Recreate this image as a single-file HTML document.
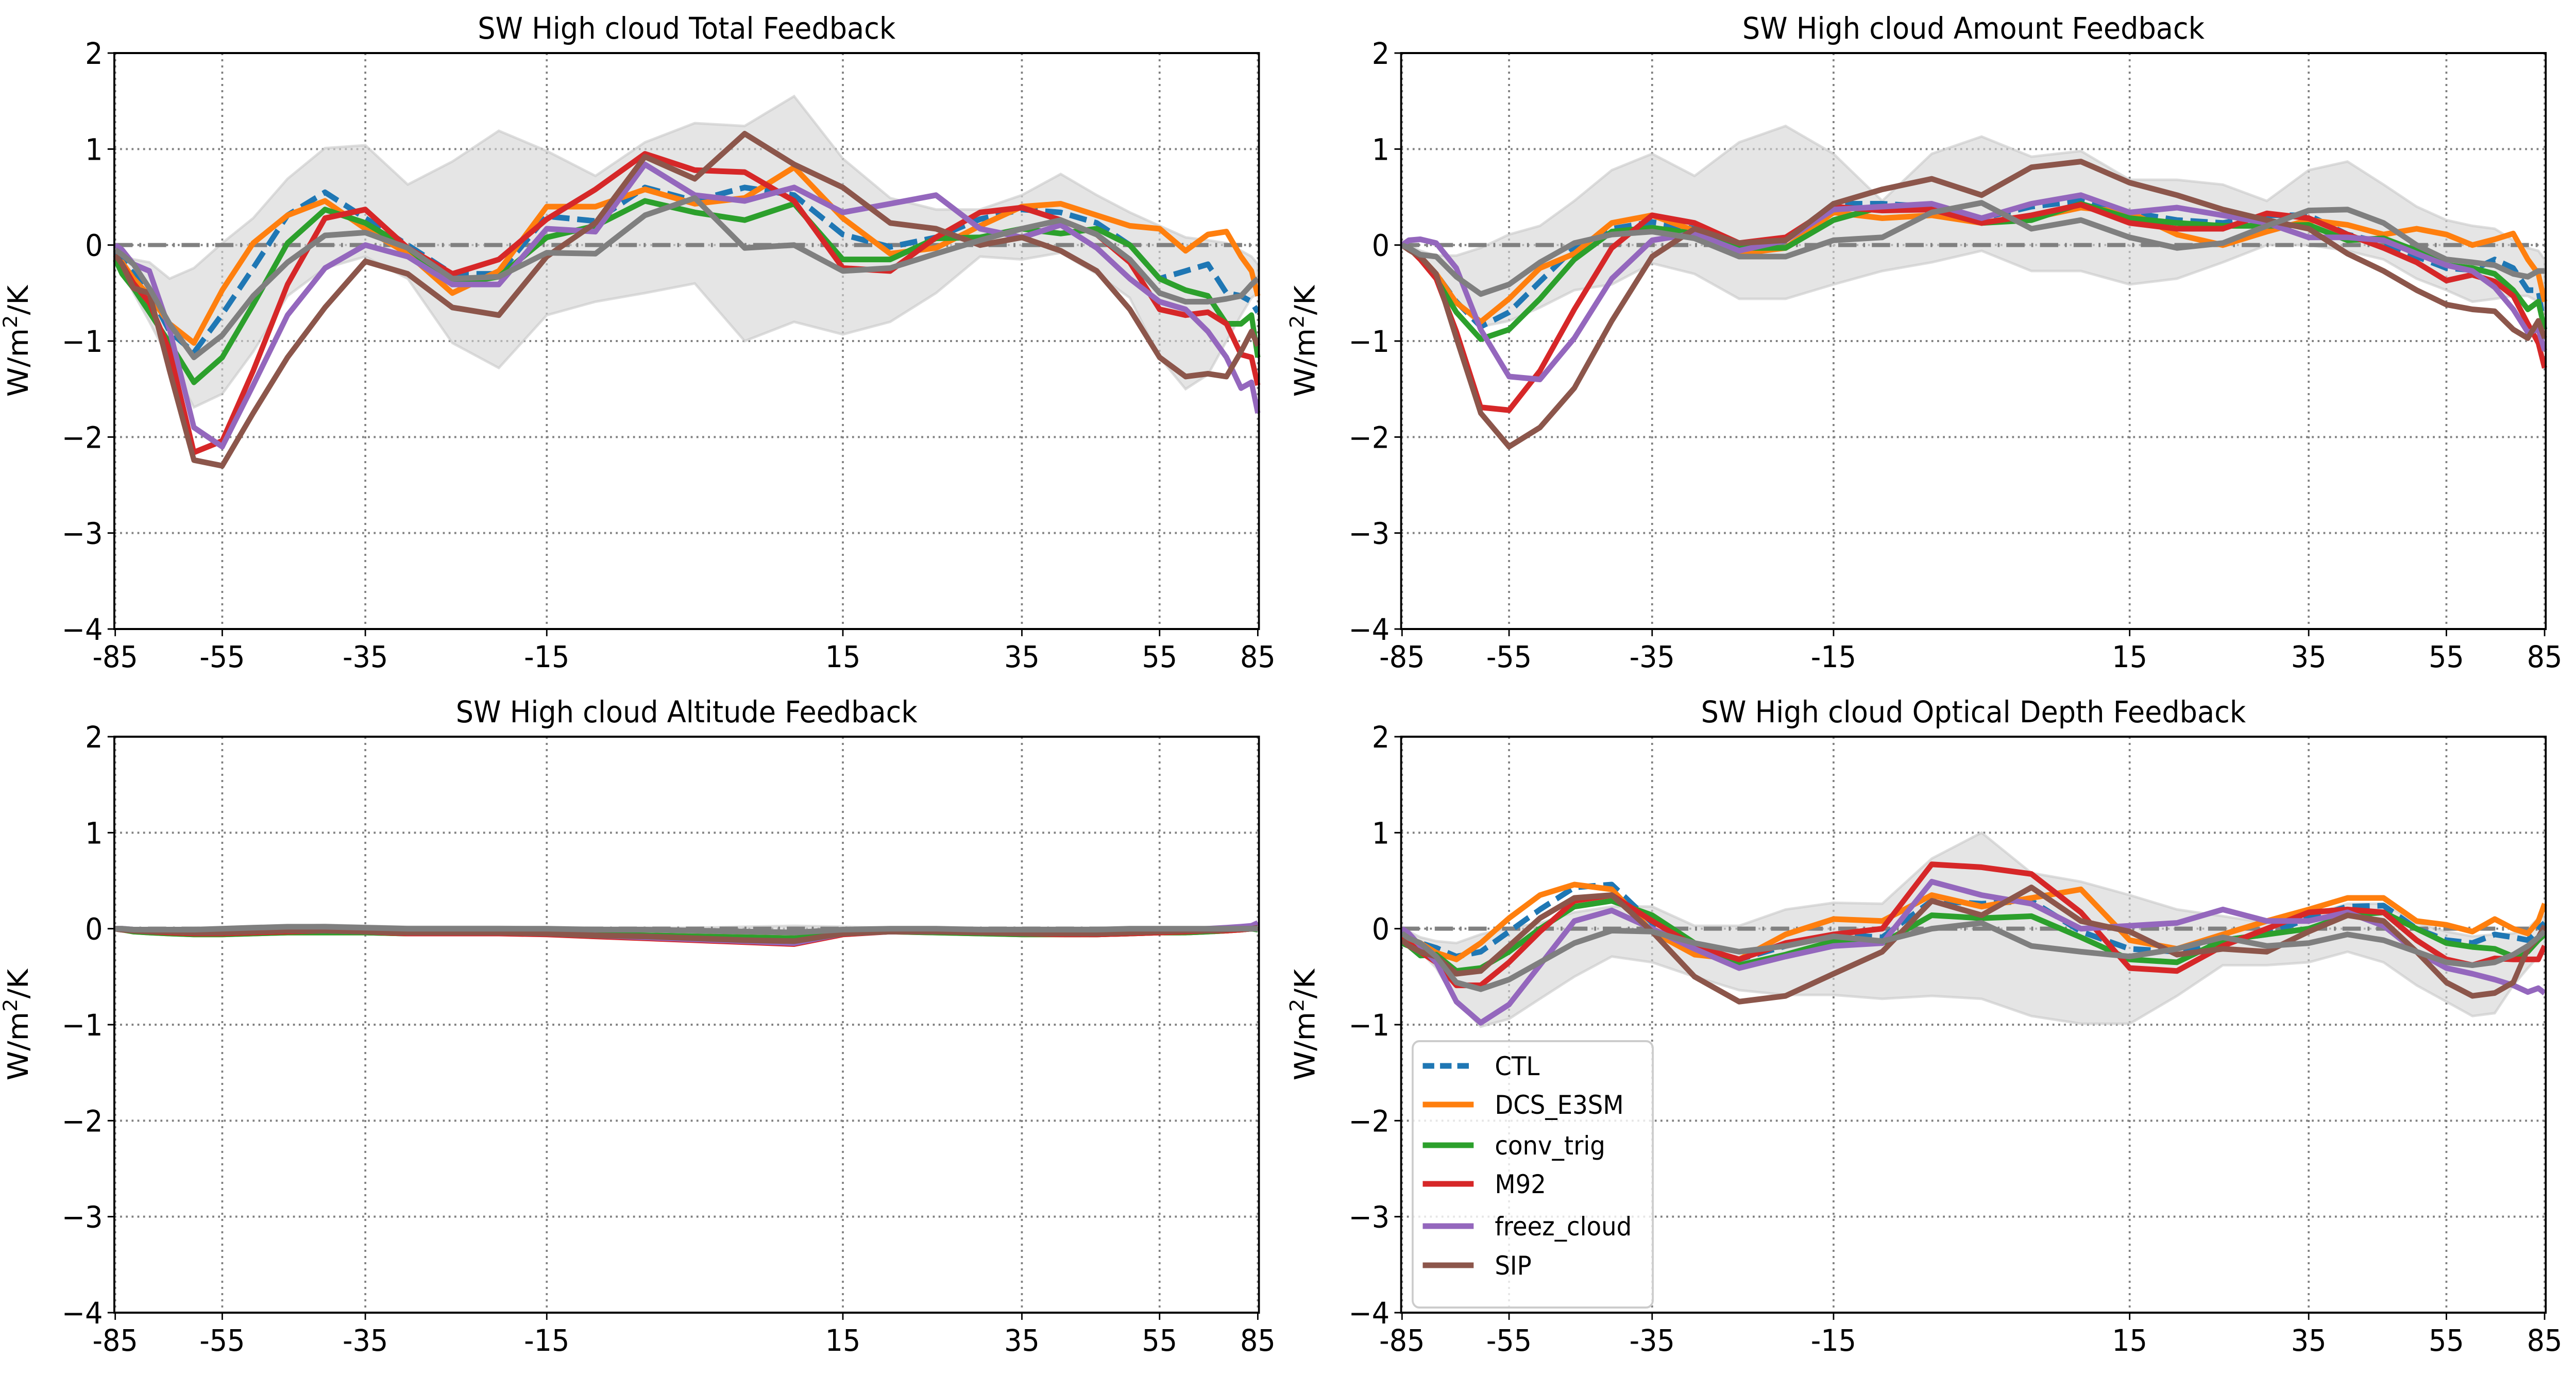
<!DOCTYPE html>
<html><head><meta charset="utf-8"><style>
html,body{margin:0;padding:0;background:#fff;overflow:hidden;width:100%;height:100%;}
svg{display:block;font-family:"DejaVu Sans","Liberation Sans",sans-serif;width:100vw;height:100vh;}
</style></head><body>
<svg id="fig" viewBox="0 0 5363 2669" preserveAspectRatio="none" xmlns="http://www.w3.org/2000/svg"></svg>
<script>
const lats = [-85,-80,-75,-70,-65,-60,-55,-50,-45,-40,-35,-30,-25,-20,-15,-10,-5,0,5,10,15,20,25,30,35,40,45,50,55,60,65,70,75,80,85];
const xTickLabels = [-85,-55,-35,-15,15,35,55,85];
const yTickLabels = [2,1,0,-1,-2,-3,-4];
const seriesNames = ["CTL","DCS_E3SM","conv_trig","M92","freez_cloud","SIP"];

// Panel 1: Total
const totCTL = [-0.05,-0.15,-0.3,-0.5,-0.9,-1.12,-0.72,-0.24,0.31,0.55,0.28,0.0,-0.3,-0.3,0.3,0.25,0.6,0.46,0.6,0.52,0.11,-0.02,0.08,0.27,0.37,0.34,0.23,0.0,-0.35,-0.27,-0.2,-0.5,-0.53,-0.59,-0.7];
const totDCS = [-0.15,-0.18,-0.35,-0.53,-0.82,-1.02,-0.47,0.02,0.31,0.46,0.17,-0.09,-0.5,-0.27,0.4,0.4,0.58,0.43,0.49,0.81,0.28,-0.09,-0.03,0.2,0.4,0.43,0.31,0.2,0.17,-0.06,0.11,0.14,-0.12,-0.27,-0.53];
const totConv = [-0.15,-0.3,-0.45,-0.7,-1.02,-1.43,-1.17,-0.62,0.02,0.37,0.23,-0.03,-0.41,-0.33,0.08,0.2,0.46,0.34,0.26,0.43,-0.15,-0.15,0.07,0.08,0.17,0.12,0.17,0.0,-0.35,-0.47,-0.53,-0.82,-0.82,-0.73,-1.17];
const totM92 = [-0.1,-0.2,-0.4,-0.6,-1.1,-2.16,-2.04,-1.31,-0.41,0.28,0.37,-0.03,-0.3,-0.15,0.27,0.58,0.95,0.78,0.76,0.46,-0.24,-0.27,0.08,0.34,0.39,0.26,0.11,-0.18,-0.67,-0.73,-0.7,-0.82,-1.14,-1.17,-1.46];
const totFreez = [0.0,-0.05,-0.2,-0.27,-0.88,-1.9,-2.1,-1.46,-0.73,-0.24,0.0,-0.12,-0.41,-0.41,0.17,0.14,0.84,0.52,0.46,0.6,0.34,0.43,0.52,0.17,0.08,0.21,-0.03,-0.35,-0.59,-0.67,-0.9,-1.17,-1.49,-1.43,-1.75];
const totSIP = [-0.1,-0.2,-0.45,-0.5,-1.31,-2.24,-2.3,-1.75,-1.17,-0.65,-0.17,-0.3,-0.65,-0.73,-0.12,0.23,0.92,0.69,1.16,0.84,0.6,0.23,0.17,0.0,0.08,-0.06,-0.27,-0.67,-1.17,-1.37,-1.34,-1.37,-1.11,-0.9,-1.05];
const totObs = [-0.05,-0.1,-0.2,-0.45,-0.82,-1.17,-0.94,-0.53,-0.18,0.1,0.13,-0.03,-0.35,-0.33,-0.08,-0.09,0.31,0.49,-0.03,0.0,-0.27,-0.24,-0.09,0.05,0.17,0.26,0.11,-0.15,-0.5,-0.59,-0.59,-0.56,-0.53,-0.41,-0.35];
const totHi = [-0.05,-0.1,-0.15,-0.18,-0.35,-0.24,0.02,0.28,0.69,1.01,1.04,0.63,0.87,1.19,0.98,0.72,1.07,1.27,1.24,1.55,0.9,0.49,0.37,0.37,0.52,0.74,0.52,0.34,0.2,0.08,0.05,0.02,-0.06,-0.12,-0.2];
const totLo = [-0.15,-0.25,-0.5,-0.8,-1.2,-1.69,-1.55,-1.11,-0.53,-0.24,-0.12,-0.35,-1.02,-1.28,-0.73,-0.59,-0.5,-0.4,-1.0,-0.8,-0.93,-0.8,-0.5,-0.12,-0.15,-0.08,-0.3,-0.55,-1.17,-1.5,-1.35,-1.0,-0.73,-0.55,-0.5];

// Panel 2: Amount
const amtCTL = [0,-0.03,-0.12,-0.3,-0.59,-0.85,-0.7,-0.38,-0.03,0.17,0.24,0.17,-0.09,0.05,0.43,0.43,0.4,0.28,0.4,0.46,0.34,0.26,0.23,0.31,0.31,0.11,0.02,-0.12,-0.24,-0.26,-0.15,-0.24,-0.47,-0.47,-0.88];
const amtDCS = [0,-0.03,-0.12,-0.3,-0.6,-0.8,-0.56,-0.24,-0.09,0.23,0.31,0.15,-0.09,-0.03,0.34,0.28,0.31,0.23,0.28,0.39,0.34,0.11,0.0,0.14,0.26,0.21,0.11,0.17,0.11,0.0,0.06,0.12,-0.15,-0.3,-0.59];
const amtConv = [0,-0.03,-0.12,-0.35,-0.7,-0.98,-0.88,-0.56,-0.15,0.14,0.18,0.12,-0.03,-0.03,0.26,0.4,0.42,0.23,0.26,0.43,0.28,0.23,0.2,0.2,0.21,0.05,0.07,-0.06,-0.21,-0.24,-0.3,-0.47,-0.67,-0.59,-0.88];
const amtM92 = [0,-0.03,-0.15,-0.35,-0.9,-1.69,-1.72,-1.31,-0.67,-0.03,0.31,0.23,0.02,0.08,0.4,0.36,0.37,0.23,0.31,0.42,0.23,0.17,0.17,0.33,0.28,0.11,-0.03,-0.18,-0.37,-0.31,-0.38,-0.53,-0.82,-1.02,-1.28];
const amtFreez = [0,0.05,0.06,0.02,-0.24,-0.88,-1.37,-1.4,-0.97,-0.35,0.05,0.12,-0.06,0.05,0.37,0.4,0.43,0.28,0.43,0.52,0.34,0.39,0.31,0.23,0.08,0.08,0.05,-0.09,-0.21,-0.27,-0.44,-0.67,-0.91,-0.88,-1.1];
const amtSIP = [0,-0.05,-0.12,-0.3,-0.97,-1.75,-2.1,-1.9,-1.49,-0.79,-0.12,0.17,0.02,0.05,0.43,0.58,0.69,0.52,0.81,0.87,0.65,0.52,0.37,0.26,0.17,-0.09,-0.27,-0.47,-0.62,-0.67,-0.69,-0.88,-0.97,-0.79,-0.97];
const amtObs = [0,-0.03,-0.1,-0.12,-0.33,-0.51,-0.41,-0.18,0.02,0.11,0.14,0.07,-0.12,-0.12,0.05,0.08,0.34,0.44,0.17,0.26,0.08,-0.03,0.02,0.2,0.36,0.37,0.23,0.0,-0.15,-0.18,-0.21,-0.3,-0.33,-0.27,-0.27];
const amtHi = [0,0,-0.06,-0.11,-0.11,-0.03,0.11,0.2,0.46,0.78,0.95,0.72,1.07,1.24,0.95,0.46,0.95,1.13,0.92,0.98,0.68,0.68,0.63,0.46,0.78,0.87,0.63,0.4,0.26,0.2,0.17,0.05,-0.03,-0.06,-0.15];
const amtLo = [0,-0.03,-0.12,-0.3,-0.6,-0.85,-0.79,-0.65,-0.47,-0.41,-0.19,-0.3,-0.56,-0.56,-0.41,-0.27,-0.18,-0.06,-0.27,-0.27,-0.41,-0.35,-0.18,0.0,0.0,-0.06,-0.15,-0.35,-0.47,-0.59,-0.56,-0.53,-0.53,-0.59,-0.73];

// Panel 3: Altitude
const altCTL = [0,-0.01,-0.02,-0.03,-0.04,-0.05,-0.05,-0.04,-0.03,-0.03,-0.04,-0.05,-0.05,-0.05,-0.05,-0.06,-0.07,-0.08,-0.09,-0.1,-0.05,-0.03,-0.03,-0.04,-0.05,-0.06,-0.06,-0.05,-0.04,-0.04,-0.03,-0.02,-0.01,0,0.02];
const altDCS = [0,-0.01,-0.03,-0.04,-0.05,-0.06,-0.06,-0.05,-0.04,-0.04,-0.04,-0.05,-0.05,-0.05,-0.05,-0.06,-0.07,-0.08,-0.09,-0.1,-0.05,-0.03,-0.04,-0.05,-0.06,-0.06,-0.06,-0.05,-0.04,-0.04,-0.03,-0.02,-0.01,0,0.02];
const altConv = [0,-0.01,-0.03,-0.04,-0.05,-0.06,-0.06,-0.05,-0.04,-0.04,-0.04,-0.05,-0.05,-0.05,-0.05,-0.06,-0.07,-0.08,-0.09,-0.1,-0.05,-0.03,-0.04,-0.05,-0.06,-0.06,-0.06,-0.05,-0.04,-0.04,-0.03,-0.02,-0.01,0,-0.01];
const altM92 = [0,-0.01,-0.02,-0.03,-0.04,-0.05,-0.05,-0.04,-0.03,-0.02,-0.03,-0.05,-0.05,-0.05,-0.06,-0.08,-0.1,-0.12,-0.14,-0.16,-0.06,-0.03,-0.03,-0.04,-0.05,-0.06,-0.06,-0.05,-0.04,-0.03,-0.02,-0.02,-0.01,0,0.01];
const altFreez = [0,0,-0.01,-0.02,-0.03,-0.04,-0.04,-0.03,-0.02,-0.02,-0.03,-0.04,-0.04,-0.04,-0.05,-0.07,-0.09,-0.11,-0.13,-0.15,-0.05,-0.03,-0.03,-0.03,-0.04,-0.04,-0.04,-0.03,-0.02,-0.01,0,0.01,0.02,0.03,0.06];
const altSIP = [0,-0.01,-0.02,-0.03,-0.03,-0.04,-0.04,-0.03,-0.02,-0.02,-0.03,-0.04,-0.04,-0.04,-0.05,-0.07,-0.08,-0.1,-0.12,-0.13,-0.05,-0.03,-0.03,-0.04,-0.05,-0.05,-0.05,-0.04,-0.03,-0.02,-0.02,-0.01,0,0,0.01];
const altObs = [0,0,-0.01,-0.01,-0.01,-0.01,0,0.01,0.02,0.02,0.01,0,0,0,0,-0.01,-0.01,-0.02,-0.03,-0.04,-0.01,0,0,-0.01,-0.01,-0.01,-0.01,0,0,0,0,0,0,0,0];
const altHi = [0.01,0.01,0,0,0,0,0.01,0.02,0.03,0.04,0.03,0.02,0.02,0.02,0.01,0.01,0.01,0.01,0.02,0.03,0.02,0.01,0.01,0.01,0.01,0.01,0.01,0.01,0.01,0.01,0.01,0.01,0.01,0.01,0.01];
const altLo = [-0.02,-0.03,-0.04,-0.05,-0.06,-0.06,-0.05,-0.04,-0.03,-0.03,-0.04,-0.05,-0.05,-0.05,-0.06,-0.07,-0.08,-0.09,-0.1,-0.11,-0.06,-0.04,-0.04,-0.05,-0.06,-0.06,-0.06,-0.05,-0.04,-0.04,-0.03,-0.03,-0.02,-0.02,-0.02];

// Panel 4: Optical depth
const optCTL = [-0.03,-0.1,-0.15,-0.2,-0.29,-0.24,-0.03,0.2,0.43,0.46,0.06,-0.18,-0.32,-0.18,-0.06,-0.09,0.29,0.26,0.29,-0.03,-0.21,-0.24,-0.12,-0.06,0.11,0.23,0.24,0.0,-0.12,-0.15,-0.06,-0.09,-0.12,0.0,0.06];
const optDCS = [-0.05,-0.1,-0.15,-0.25,-0.32,-0.15,0.11,0.35,0.46,0.41,-0.03,-0.27,-0.32,-0.06,0.1,0.08,0.35,0.23,0.32,0.41,-0.12,-0.21,-0.06,0.08,0.2,0.32,0.32,0.08,0.04,-0.03,0.1,0.0,-0.05,0.08,0.26];
const optConv = [-0.15,-0.18,-0.28,-0.27,-0.44,-0.41,-0.24,0.0,0.23,0.29,0.14,-0.15,-0.38,-0.27,-0.13,-0.15,0.14,0.11,0.13,-0.09,-0.32,-0.35,-0.12,-0.06,0.0,0.14,0.17,0.0,-0.15,-0.19,-0.21,-0.29,-0.24,-0.12,-0.06];
const optM92 = [-0.09,-0.15,-0.24,-0.35,-0.59,-0.59,-0.35,-0.03,0.29,0.35,0.08,-0.18,-0.32,-0.15,-0.06,0.0,0.67,0.64,0.57,0.17,-0.41,-0.44,-0.18,0.0,0.17,0.2,0.17,-0.12,-0.32,-0.38,-0.31,-0.32,-0.32,-0.32,-0.18];
const optFreez = [0,-0.05,-0.18,-0.35,-0.76,-0.98,-0.79,-0.38,0.08,0.19,0.0,-0.21,-0.41,-0.29,-0.18,-0.15,0.49,0.35,0.26,0.0,0.03,0.06,0.2,0.08,0.08,0.17,0.03,-0.24,-0.41,-0.47,-0.53,-0.59,-0.66,-0.62,-0.67];
const optSIP = [-0.12,-0.18,-0.24,-0.29,-0.47,-0.44,-0.18,0.11,0.32,0.35,-0.03,-0.5,-0.76,-0.7,-0.47,-0.24,0.29,0.14,0.43,0.08,-0.03,-0.27,-0.21,-0.24,-0.03,0.14,0.08,-0.24,-0.56,-0.7,-0.67,-0.56,-0.21,-0.09,0.03];
const optObs = [-0.05,-0.1,-0.15,-0.29,-0.56,-0.63,-0.53,-0.35,-0.15,-0.02,-0.03,-0.15,-0.24,-0.18,-0.08,-0.13,0.0,0.06,-0.18,-0.24,-0.29,-0.21,-0.09,-0.18,-0.15,-0.06,-0.12,-0.24,-0.35,-0.38,-0.35,-0.27,-0.18,-0.09,-0.03];
const optHi = [0,-0.03,-0.09,-0.13,-0.15,-0.06,0.01,0.06,0.17,0.23,0.23,0.03,0.03,0.2,0.27,0.26,0.73,1.0,0.58,0.49,0.35,0.2,0.13,0.06,0.14,0.26,0.26,0.06,-0.03,-0.08,-0.06,-0.05,0.0,0.11,0.14];
const optLo = [-0.09,-0.15,-0.24,-0.41,-0.76,-1.02,-0.94,-0.73,-0.5,-0.29,-0.35,-0.5,-0.64,-0.69,-0.69,-0.73,-0.7,-0.73,-0.91,-0.99,-0.99,-0.7,-0.38,-0.38,-0.35,-0.24,-0.35,-0.59,-0.76,-0.91,-0.88,-0.59,-0.41,-0.29,-0.24];

const panels = [
  {title:"SW High cloud Total Feedback", x0:238, y0:103, s:[totCTL,totDCS,totConv,totM92,totFreez,totSIP], obs:totObs, hi:totHi, lo:totLo, key:"total"},
  {title:"SW High cloud Amount Feedback", x0:2917, y0:103, s:[amtCTL,amtDCS,amtConv,amtM92,amtFreez,amtSIP], obs:amtObs, hi:amtHi, lo:amtLo, key:"amount"},
  {title:"SW High cloud Altitude Feedback", x0:238, y0:1430, s:[altCTL,altDCS,altConv,altM92,altFreez,altSIP], obs:altObs, hi:altHi, lo:altLo, key:"altitude"},
  {title:"SW High cloud Optical Depth Feedback", x0:2917, y0:1430, s:[optCTL,optDCS,optConv,optM92,optFreez,optSIP], obs:optObs, hi:optHi, lo:optLo, key:"optical-depth"}
];
const colors = ["#1f77b4","#ff7f0e","#2ca02c","#d62728","#9467bd","#8c564b"];
const W = 2383, H = 1118;
const tickFrac = [0.0008,0.0943,0.2193,0.3778,0.6365,0.7929,0.9132,0.999];
const rad = d => Math.sin(d*Math.PI/180);
function xFrac(lat){
  const t = xTickLabels;
  if (lat <= t[0]) return tickFrac[0];
  for (let i=0;i<t.length-1;i++){
    if (lat <= t[i+1]){
      const f = (rad(lat)-rad(t[i]))/(rad(t[i+1])-rad(t[i]));
      return tickFrac[i] + f*(tickFrac[i+1]-tickFrac[i]);
    }
  }
  return tickFrac[tickFrac.length-1];
}
const NS = "http://www.w3.org/2000/svg";
const svg = document.getElementById('fig');
function mk(tag, attrs, parent){
  const e = document.createElementNS(NS, tag);
  for (const k in attrs) e.setAttribute(k, attrs[k]);
  (parent||svg).appendChild(e);
  return e;
}
panels.forEach((p) => {
  const g = mk('g', {});
  
  
  const X = lat => p.x0 + xFrac(lat)*W;
  const Y = v => p.y0 + (2 - v)/6*H;
  const grid = mk('g', {stroke:"#808080","stroke-width":4,"stroke-dasharray":"4,8"}, g);
  
  
  xTickLabels.forEach(t => mk('line', {x1:X(t),x2:X(t),y1:p.y0,y2:p.y0+H}, grid));
  yTickLabels.forEach(t => mk('line', {x1:p.x0,x2:p.x0+W,y1:Y(t),y2:Y(t)}, grid));
  let d = lats.map((l,i)=>(i?'L':'M')+X(l).toFixed(1)+','+Y(p.hi[i]).toFixed(1)).join('');
  for (let i=lats.length-1;i>=0;i--) d += 'L'+X(lats[i]).toFixed(1)+','+Y(p.lo[i]).toFixed(1);
  const band = mk('path', {d:d+'Z', fill:"#d3d3d3","fill-opacity":0.6, stroke:"#c8c8c8","stroke-opacity":0.6,"stroke-width":5}, g);
  
  
  const z = mk('line', {x1:p.x0,x2:p.x0+W,y1:Y(0),y2:Y(0),stroke:"#808080","stroke-width":8,"stroke-dasharray":"38,14,4,14"}, g);
  
  
  const path = arr => lats.map((l,i)=>(i?'L':'M')+X(l).toFixed(1)+','+Y(arr[i]).toFixed(1)).join('');
  p.s.forEach((arr, si) => {
    const a = {d:path(arr), fill:"none", stroke:colors[si], "stroke-width":11, "stroke-linejoin":"round"};
    if (si===0) a["stroke-dasharray"] = "36,16";
    const ln = mk('path', a, g);
    
    
  });
  const ob = mk('path', {d:path(p.obs), fill:"none", stroke:"#7f7f7f","stroke-width":11,"stroke-linejoin":"round"}, g);
  
  
  const fr = mk('rect', {x:p.x0,y:p.y0,width:W,height:H,fill:"none",stroke:"#000","stroke-width":4}, g);
  
  
  const tk = mk('g', {stroke:"#000","stroke-width":3}, g);
  
  
  xTickLabels.forEach(t => {
    mk('line', {x1:X(t),x2:X(t),y1:p.y0+H,y2:p.y0+H+14}, tk);
    const tx = mk('text', {x:X(t), y:p.y0+H+74, "font-size":58, "text-anchor":"middle", fill:"#000"}, g);
    tx.textContent = String(t);
    
    
  });
  yTickLabels.forEach(t => {
    mk('line', {x1:p.x0-14,x2:p.x0,y1:Y(t),y2:Y(t)}, tk);
    const ty = mk('text', {x:p.x0-24, y:Y(t)+21, "font-size":58, "text-anchor":"end", fill:"#000"}, g);
    ty.textContent = t<0 ? '\u2212'+Math.abs(t) : String(t);
    
    
  });
  const tt = mk('text', {x:p.x0+W/2, y:p.y0-28, "font-size":58, "text-anchor":"middle", fill:"#000"}, g);
  tt.textContent = p.title;
  
  
  const yl = mk('text', {x:0,y:0,"font-size":58,"text-anchor":"middle",fill:"#000",transform:`translate(${p.x0-180},${p.y0+H/2}) rotate(-90)`}, g);
  yl.innerHTML = 'W/m<tspan baseline-shift="super" font-size="40">2</tspan>/K';
  
  
});
const lg = mk('g', {});


mk('rect', {x:2941,y:2021,width:500,height:517,rx:14,fill:"#fff","fill-opacity":0.8,stroke:"#cccccc","stroke-width":4}, lg);
const rowsY = [2069,2144,2223,2298,2380,2456];
seriesNames.forEach((n,i) => {
  const a = {x1:2962,x2:3068,y1:rowsY[i],y2:rowsY[i],stroke:colors[i],"stroke-width":11};
  if (i===0) a["stroke-dasharray"] = "24,12";
  const l = mk('line', a, lg);
  
  
  const t = mk('text', {x:3112,y:rowsY[i]+18,"font-size":50,fill:"#000"}, lg);
  t.textContent = n;
  
  
});
</script>
</body></html>
